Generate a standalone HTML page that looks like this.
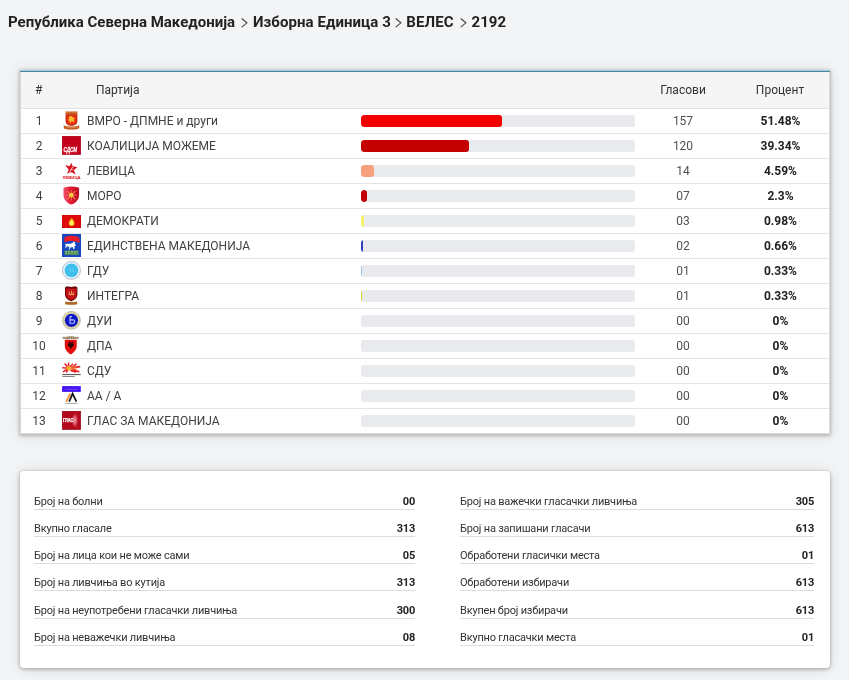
<!DOCTYPE html>
<html lang="mk">
<head>
<meta charset="utf-8">
<title>ВЕЛЕС 2192</title>
<style>
*{box-sizing:border-box;margin:0;padding:0}
html,body{width:849px;height:680px;overflow:hidden}
body{background:#f3f4f6;font-family:"Roboto","Liberation Sans",sans-serif;color:#333;position:relative}
.crumb{position:absolute;left:8px;top:13px;font-size:15px;font-weight:700;color:#222;white-space:nowrap;line-height:18px}
.crumb span{letter-spacing:.07px}
.crumb svg{display:inline-block;vertical-align:top;position:relative;top:5px}
.card{position:absolute;left:20px;width:810px;background:#fff;box-shadow:0 1px 3px 1px rgba(0,0,0,.2),0 1px 14px rgba(0,0,0,.12)}
#t{top:70px;height:364px;border-top:1px solid #9ccde3;border-left:1px solid rgba(0,0,0,.14);border-right:1px solid rgba(0,0,0,.14);border-bottom:1px solid rgba(0,0,0,.14)}
#t:before{content:'';position:absolute;left:-1px;top:0;width:810px;height:1px;background:#4f849e}
.hd{position:absolute;left:0;top:1px;width:808px;height:37px;background:#f5f5f5;border-bottom:1px solid #e2e2e2;font-size:12px;color:#333}
.hd span{position:absolute;top:11px;line-height:14px}
.row{position:absolute;left:0;width:808px;height:25px;border-bottom:1px solid #e4e4e4;font-size:12px;color:#404040}
.row span{position:absolute;top:5px;line-height:14px;white-space:nowrap}
.row .n{left:7px;width:22px;text-align:center}
.row .nm{left:66px}
.row .v{left:642px;width:40px;text-align:center;color:#505050}
.row .p{left:720px;width:79px;text-align:center;font-weight:700;color:#222}
.bar{position:absolute;left:340px;top:6px;width:274px;height:12px;border-radius:3px;background:#e8eaed;overflow:hidden}
.bar i{position:absolute;left:0;top:0;height:12px;border-radius:3px}
.lg{position:absolute;display:block}
.lg svg{display:block}
#s{top:471px;height:197px;border-radius:4px}
.st{position:absolute;height:27px;border-bottom:1px solid #ddd;font-size:11px;letter-spacing:-.2px;color:#333}
.st span{position:absolute;top:12px;line-height:14px;white-space:nowrap}
.st .l{left:0}
.st .r{right:0;font-weight:700;color:#222;font-family:"Roboto","Liberation Sans",sans-serif;font-size:11px;top:12px;letter-spacing:-.2px}
</style>
</head>
<body>
<div class="crumb"><span style="letter-spacing:0">Република Северна Македонија</span><svg style="margin:0 5.4px 0 5.52px" width="7" height="10" viewBox="0 0 7 10"><path d="M0.7 0.5L5.9 4.8L0.7 9.1" fill="none" stroke="#444" stroke-width="1.1"/></svg><span>Изборна Единица 3</span><svg style="margin:0 4.09px 0 4.41px" width="7" height="10" viewBox="0 0 7 10"><path d="M0.7 0.5L5.9 4.8L0.7 9.1" fill="none" stroke="#444" stroke-width="1.1"/></svg><span>ВЕЛЕС</span><svg style="margin:0 4.3px 0 6.61px" width="7" height="10" viewBox="0 0 7 10"><path d="M0.7 0.5L5.9 4.8L0.7 9.1" fill="none" stroke="#444" stroke-width="1.1"/></svg><span>2192</span></div>
<div class="card" id="t">
<div class="hd"><span style="left:14px">#</span><span style="left:75px">Партија</span><span style="left:622px;width:80px;text-align:center">Гласови</span><span style="left:719px;width:80px;text-align:center">Процент</span></div>
<div class="row" style="top:38px"><span class="n">1</span><span class="nm">ВМРО - ДПМНЕ и други</span><div class="bar"><i style="width:141.06px;background:#f50000"></i></div><span class="v">157</span><span class="p">51.48%</span></div>
<div class="row" style="top:63px"><span class="n">2</span><span class="nm">КОАЛИЦИЈА МОЖЕМЕ</span><div class="bar"><i style="width:107.79px;background:#c40000"></i></div><span class="v">120</span><span class="p">39.34%</span></div>
<div class="row" style="top:88px"><span class="n">3</span><span class="nm">ЛЕВИЦА</span><div class="bar"><i style="width:12.58px;background:#f9a07e"></i></div><span class="v">14</span><span class="p">4.59%</span></div>
<div class="row" style="top:113px"><span class="n">4</span><span class="nm">МОРО</span><div class="bar"><i style="width:6.30px;background:#c40000"></i></div><span class="v">07</span><span class="p">2.3%</span></div>
<div class="row" style="top:138px"><span class="n">5</span><span class="nm">ДЕМОКРАТИ</span><div class="bar"><i style="width:2.69px;background:#f3f36a"></i></div><span class="v">03</span><span class="p">0.98%</span></div>
<div class="row" style="top:163px"><span class="n">6</span><span class="nm">ЕДИНСТВЕНА МАКЕДОНИЈА</span><div class="bar"><i style="width:1.81px;background:#2f3fbf"></i></div><span class="v">02</span><span class="p">0.66%</span></div>
<div class="row" style="top:188px"><span class="n">7</span><span class="nm">ГДУ</span><div class="bar"><i style="width:0.90px;background:#9cc7ea"></i></div><span class="v">01</span><span class="p">0.33%</span></div>
<div class="row" style="top:213px"><span class="n">8</span><span class="nm">ИНТЕГРА</span><div class="bar"><i style="width:0.90px;background:#d9d33a"></i></div><span class="v">01</span><span class="p">0.33%</span></div>
<div class="row" style="top:238px"><span class="n">9</span><span class="nm">ДУИ</span><div class="bar"></div><span class="v">00</span><span class="p">0%</span></div>
<div class="row" style="top:263px"><span class="n">10</span><span class="nm">ДПА</span><div class="bar"></div><span class="v">00</span><span class="p">0%</span></div>
<div class="row" style="top:288px"><span class="n">11</span><span class="nm">СДУ</span><div class="bar"></div><span class="v">00</span><span class="p">0%</span></div>
<div class="row" style="top:313px"><span class="n">12</span><span class="nm">АА / А</span><div class="bar"></div><span class="v">00</span><span class="p">0%</span></div>
<div class="row" style="top:338px;border-bottom:0"><span class="n">13</span><span class="nm">ГЛАС ЗА МАКЕДОНИЈА</span><div class="bar"></div><span class="v">00</span><span class="p">0%</span></div>
<div class="lg" style="left:42px;top:40px"><svg width="17" height="19" viewBox="0 0 17 19"><path d="M2.6 .5h11.8v3.2H2.6z" fill="#c4521c"/><path d="M3.2 1.3h1.6M5.8 1.3h1.6M9.6 1.3h1.6M12.2 1.3h1.6" stroke="#f2a848" stroke-width=".9"/><path d="M2.6 3.4h11.8v6.6c0 3.1-2.7 4.8-5.9 4.8s-5.9-1.7-5.9-4.8z" fill="#b8200e"/><path d="M3.5 4.2h10v5.8c0 2.5-2.3 3.9-5 3.9s-5-1.4-5-3.9z" fill="#e8320f"/><path d="M7.6 4.9l1.8.5.5 1.5 1.3-.3.4 1.3-1 .9.9 1.8-1.5.6-.6-1.2-1.6.4.2 1.6-1.4-.2-.2-1.9-1.1-.9.8-1.4-.3-1.5 1-.6z" fill="#f9c22c"/><path d="M.6 14.2c2.6 1 5.2 1.4 7.9 1.4s5.3-.4 7.9-1.4l-.4 3.2c-2.4.8-4.9 1.2-7.5 1.2s-5.1-.4-7.5-1.2z" fill="#c2561e"/><path d="M1.8 15.6c2.1.8 4.4 1.1 6.7 1.1s4.6-.3 6.7-1.1" stroke="#e89640" stroke-width=".7" fill="none"/></svg></div>
<div class="lg" style="left:41px;top:65px"><svg width="19" height="19" viewBox="0 0 19 19"><rect x=".1" y=".1" width="18.7" height="18.6" fill="#c4001a"/><rect x=".1" y=".1" width="18.7" height="18.6" fill="none" stroke="#960014" stroke-width=".4"/><text x="1.5" y="15.8" font-size="6.6" font-family="Liberation Sans,sans-serif" font-weight="700" font-style="italic" fill="#ffe8ec" stroke="#ffe8ec" stroke-width=".35" textLength="13.6" lengthAdjust="spacingAndGlyphs">СДСМ</text></svg></div>
<div class="lg" style="left:41px;top:91px"><svg width="19" height="18" viewBox="0 0 19 18"><path d="M9.3 .8L10.7 4.3 15.4 5.3 11.9 7.9 13.6 12.5 9.6 10.2 5.1 11.6 6.7 7.8 3.2 3.1 7.6 4.2z" fill="#d8141e"/><path d="M7.4 10.6L10.8 4.8" stroke="#fff" stroke-width=".8"/><path d="M9 7.3l2.6.6" stroke="#fff" stroke-width=".5"/><text x=".4" y="17.1" font-size="3.9" font-family="Liberation Sans,sans-serif" font-weight="700" fill="#d8141e" textLength="18.2" lengthAdjust="spacingAndGlyphs">ЛЕВИЦА</text></svg></div>
<div class="lg" style="left:42px;top:115px"><svg width="17" height="19" viewBox="0 0 17 19"><defs><linearGradient id="mg" x1="0" x2="1"><stop offset="0" stop-color="#f2506e"/><stop offset=".45" stop-color="#e21a32"/><stop offset="1" stop-color="#b80e26"/></linearGradient></defs><path d="M.5 1.8Q8.3-.6 16.1 1.8V9c0 4.8-3.6 8.2-7.8 9.6C4.1 17.2.5 13.8.5 9z" fill="url(#mg)"/><g stroke="#f3b440" stroke-width="1" stroke-linecap="round"><path d="M8.3 9.2L4.4 5.3M8.3 9.2l3.9-3.9M8.3 9.2l3.9 3.9M8.3 9.2l-3.9 3.9"/></g><g stroke="#f08a50" stroke-width=".7" stroke-linecap="round"><path d="M8.3 9.2V4.2M8.3 9.2h5M8.3 9.2v5M8.3 9.2h-5"/></g><circle cx="8.3" cy="9.2" r="2.3" fill="#f4c83a"/><circle cx="9" cy="8.6" r="1" fill="#fbe070"/></svg></div>
<div class="lg" style="left:41px;top:144px"><svg width="19" height="13" viewBox="0 0 19 13"><rect width="19" height="13" fill="#df0b0b"/><rect width="19" height="13" fill="none" stroke="#b00808" stroke-width=".5"/><path d="M9.6 3.2c1.9 1.6 2.8 3.2 2.8 5 0 1.7-1.3 2.7-2.8 2.7S6.8 9.9 6.8 8.2c0-1.6 1-3 2.8-5z" fill="#f9d62a"/><path d="M9.6 5.8c.9 1 1.3 1.8 1.3 2.6 0 .9-.6 1.4-1.3 1.4s-1.3-.5-1.3-1.4c0-.8.5-1.6 1.3-2.6z" fill="#fdf070"/></svg></div>
<div class="lg" style="left:41px;top:163px"><svg width="19" height="23" viewBox="0 0 19 23"><rect width="19" height="23" fill="#1747c3"/><path d="M2.4 3.6C6 .9 12.4 1.2 17.4 3.4v6.2c-1.5-1.6-3.3-2.4-5-2.2C9.4 6.7 5.6 6.9 2.4 8.4z" fill="#f01c26"/><path d="M2.6 10.6c1.2-1 2.8-1.2 4.2-.7l3.2-.6 1.8-1.6 1.4.4-.6 1.6 1.4 1.2-1.6 1.8.2 2-1.4.2-.5-1.8-2.6.6-.6 1.8H6.6l.8-2.4-2.4-.8-.8 1.4H3l1-2.4z" fill="#fff"/><rect x="2.6" y="16.5" width="14" height="4.6" fill="#4e8a52"/><path d="M3 17.6h13M3 19.2h13" stroke="#d8e8c0" stroke-width=".5" stroke-dasharray="2 1"/></svg></div>
<div class="lg" style="left:41px;top:190px"><svg width="19" height="19" viewBox="0 0 19 19"><circle cx="9.45" cy="9.35" r="9" fill="#e6f2fa" stroke="#9aa6c0" stroke-width=".7"/><circle cx="9.45" cy="9.35" r="6.8" fill="#3fc0ec"/><path d="M8.2 7.5v3.6M10.2 7.5l1.2 1.8-1.2 1.8" stroke="#7ad4f2" stroke-width=".6" fill="none"/></svg></div>
<div class="lg" style="left:43px;top:215px"><svg width="15" height="19" viewBox="0 0 15 19"><path d="M1 1.6L3 .3 7.2 1 11.4.3 13.4 1.6V8.6c0 3.4-2.8 5.6-6.2 6.6C3.8 14.2 1 12 1 8.6z" fill="#6a0808"/><path d="M2 2.4h10.4v6c0 2.8-2.3 4.7-5.2 5.6C4.3 13.1 2 11.2 2 8.4z" fill="#c4121a"/><path d="M4.6 8.6h5.4M5.4 8.6V5.6M7.6 8.6V4.6M9.4 8.6V6.2" stroke="#e8a860" stroke-width="1"/><path d="M1.4 15.4q5.8 1.4 11.6 0l.4 2.8q-6.2 1.2-12.4 0z" fill="#b06a28"/></svg></div>
<div class="lg" style="left:41px;top:240px"><svg width="19" height="19" viewBox="0 0 19 19"><circle cx="9.45" cy="9.35" r="9" fill="#ddd6a8" stroke="#a8a8a0" stroke-width=".6"/><circle cx="9.45" cy="9.35" r="6.6" fill="#0f18c4"/><path d="M8 5.6v6.6h3.2c1 0 1.4-.8 1.4-1.7 0-.9-.5-1.6-1.4-1.6H8M8 5.6h2" stroke="#b8c4ff" stroke-width="1.1" fill="none"/></svg></div>
<div class="lg" style="left:41px;top:265px"><svg width="18" height="19" viewBox="0 0 18 19"><path d="M.6 2q.8-1.8 2.6-.6 5.6-1.6 11 0 1.8-1.2 2.6.6-1 .9-2.6.6-5.4-1.3-10.6 0-1.9.3-3-.6z" fill="#d4bc8c" stroke="#5a4828" stroke-width=".5"/><path d="M5 2.2h8" stroke="#2a2010" stroke-width=".6" stroke-dasharray="1.2 .8"/><path d="M2.8 3.8h11.9v6.2c0 3.6-2.6 6.5-5.95 8.4C5.4 16.5 2.8 13.6 2.8 10z" fill="#e30f0f"/><path d="M8.3 6.2h1.2v6.6H8.3z" fill="#140404"/><path d="M5.9 7.2l2.4 1.2h1.2l2.4-1.2-.5 3-2 .6H8.3l-2-.6z" fill="#140404"/><circle cx="7.5" cy="6.6" r=".9" fill="#140404"/><circle cx="10.3" cy="6.6" r=".9" fill="#140404"/></svg></div>
<div class="lg" style="left:41px;top:291px"><svg width="19" height="16" viewBox="0 0 19 16"><g stroke="#e8202a" stroke-width="1.6" stroke-linecap="round"><path d="M6.6 6.2L3 2M6.6 6.2L.9 5.8M6.6 6.2L1.5 9.6M6.6 6.2V1.4M6.6 6.2L10.6 2.2M6.6 6.2L4.6 10"/><path d="M10 6L14 2.2M10 6l7.6-1.4M11 7.4l5.8 2.4M9 8.4l4.4 1.6"/></g><circle cx="6.6" cy="6.2" r="2.2" fill="#f8b22a"/><path d="M8.4 5.2h5.4M8.6 7.2h6" stroke="#f27a20" stroke-width="1.2"/><rect x=".3" y="12.1" width="18.4" height="1" fill="#4a4a4a"/><rect x=".3" y="14" width="12.4" height=".9" fill="#7a7a7a"/></svg></div>
<div class="lg" style="left:41px;top:315px"><svg width="19" height="19" viewBox="0 0 19 19"><rect x=".1" y=".1" width="18.7" height="5.8" fill="#4412f2"/><path d="M3 3.3h13" stroke="#8a70ff" stroke-width=".6"/><path d="M4.3 15.6L8.2 7.6" stroke="#f08a2a" stroke-width="1.7"/><path d="M7.2 15.6L10.6 7.6 14.4 15.6" stroke="#141414" stroke-width="1.7" fill="none"/><rect x="3.4" y="16.9" width="12" height=".9" fill="#9a9a9a"/></svg></div>
<div class="lg" style="left:41px;top:340px"><svg width="19" height="19" viewBox="0 0 19 19"><defs><radialGradient id="gg"><stop offset="0" stop-color="#f4b0b8"/><stop offset=".5" stop-color="#e06878" stop-opacity=".8"/><stop offset="1" stop-color="#b4081a" stop-opacity="0"/></radialGradient></defs><rect x=".1" y=".1" width="18.7" height="18.6" fill="#b1081a"/><ellipse cx="12.8" cy="9.4" rx="3.6" ry="8.4" fill="url(#gg)"/><path d="M14.6 2.4q2.6 7-.2 14.2" stroke="#c83848" stroke-width=".6" fill="none"/><rect x=".1" y=".1" width="18.7" height="18.6" fill="none" stroke="#860612" stroke-width=".4"/><text x=".9" y="11.3" font-size="5" font-family="Liberation Sans,sans-serif" font-weight="700" fill="#fff" stroke="#fff" stroke-width=".25" textLength="10.4" lengthAdjust="spacingAndGlyphs">ГЛАС</text></svg></div>
</div>
<div class="card" id="s">
<div class="st" style="left:14px;width:381px;top:12px"><span class="l">Број на болни</span><span class="r">00</span></div>
<div class="st" style="left:440px;width:354px;top:12px"><span class="l">Број на важечки гласачки ливчиња</span><span class="r">305</span></div>
<div class="st" style="left:14px;width:381px;top:39px"><span class="l">Вкупно гласале</span><span class="r">313</span></div>
<div class="st" style="left:440px;width:354px;top:39px"><span class="l">Број на запишани гласачи</span><span class="r">613</span></div>
<div class="st" style="left:14px;width:381px;top:66px"><span class="l">Број на лица кои не може сами</span><span class="r">05</span></div>
<div class="st" style="left:440px;width:354px;top:66px"><span class="l">Обработени гласички места</span><span class="r">01</span></div>
<div class="st" style="left:14px;width:381px;top:93px"><span class="l">Број на ливчиња во кутија</span><span class="r">313</span></div>
<div class="st" style="left:440px;width:354px;top:93px"><span class="l">Обработени избирачи</span><span class="r">613</span></div>
<div class="st" style="left:14px;width:381px;top:121px"><span class="l">Број на неупотребени гласачки ливчиња</span><span class="r">300</span></div>
<div class="st" style="left:440px;width:354px;top:121px"><span class="l">Вкупен број избирачи</span><span class="r">613</span></div>
<div class="st" style="left:14px;width:381px;top:148px"><span class="l">Број на неважечки ливчиња</span><span class="r">08</span></div>
<div class="st" style="left:440px;width:354px;top:148px"><span class="l">Вкупно гласачки места</span><span class="r">01</span></div>
</div>
</body>
</html>
